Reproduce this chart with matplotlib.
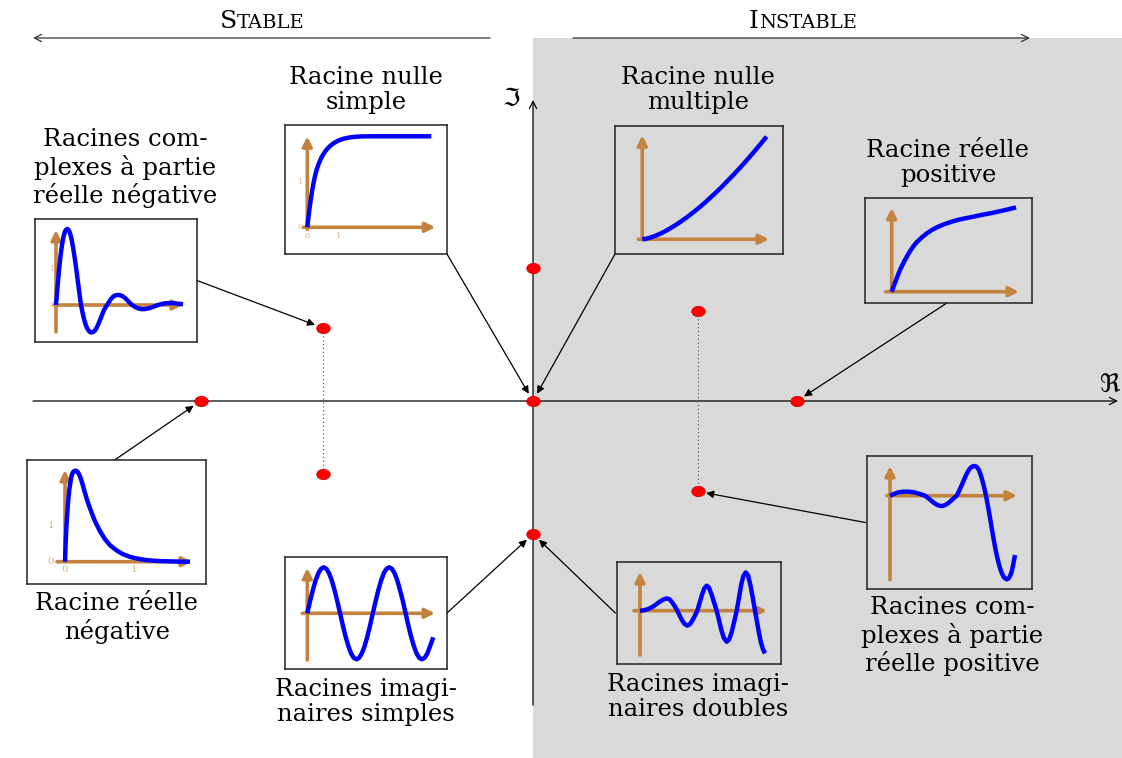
import numpy as np
import matplotlib
matplotlib.use('Agg')
import matplotlib.pyplot as plt
from matplotlib.patches import Rectangle
from matplotlib.markers import MarkerStyle
from matplotlib.transforms import Affine2D
from matplotlib.offsetbox import TextArea, HPacker, AnnotationBbox

plt.rcParams['font.family'] = ['DejaVu Serif', 'DejaVu Sans']

W, H = 1122, 758
U = 66.5           # pixels par unité du plan complexe
OX, OY = 533, 401  # origine du plan complexe (pixels)

# pôles dans le plan complexe
pole_re = [-5.0, -3.16, -3.16, 0.0, 0.0, 0.0, 2.48, 2.48, 3.97]
pole_im = [0.0, 1.1, -1.1, 2.0, 0.0, -2.0, 1.36, -1.36, 0.0]

# réponses dessinées dans les vignettes (t, y) en pixels depuis l'origine de chaque vignette
cplx_neg_t = [0, 1.5, 3, 4.5, 6, 7.5, 9, 10.2, 11.3, 12.5, 14, 15.5, 17, 18.5, 20, 21.5, 23, 24, 25, 26.5, 28,
              29.5, 31, 32.5, 34, 35.5, 37, 38.5, 40, 42, 44, 46, 48, 49.5, 51, 53, 55, 57, 59, 61, 63, 65, 67,
              69, 71, 73.5, 76, 78, 80, 82.5, 85, 87, 89, 91.5, 94, 96, 98, 100, 102, 105, 108, 111, 114, 117,
              120, 123.5, 127]
cplx_neg_y = [0, 18, 35, 49, 60, 68.5, 73.5, 75.5, 76, 75.3, 72, 66, 58, 48.5, 38, 26.5, 15, 7.5, 0, -7.5, -14,
              -19, -23, -25.5, -27, -27.5, -27, -26, -24, -20, -15, -10, -5, -2.5, 0, 3, 6, 8.3, 9.5, 10, 10, 9.5,
              8.5, 7, 5, 2.5, 0, -1.2, -2.5, -3.5, -4, -4.2, -4, -3.5, -3, -2.3, -1.5, -0.8, 0, 0.8, 1.5, 1.8, 2,
              1.9, 1.5, 1.1, 0.7]
null_simple_t = [0, 0.5, 1, 1.5, 2, 3, 4, 5, 6, 7, 8, 9.5, 11, 12.5, 14, 16, 18, 20, 22, 24, 26, 28, 30, 33, 36,
                 39, 42, 46, 49, 55, 63, 80, 100, 124]
null_simple_y = [0, 4.5, 9, 13, 17, 24.5, 31, 37.5, 43, 48, 52.5, 58, 62.5, 66, 69.5, 73, 76, 78.5, 80.5, 82.3,
                 83.8, 85, 86.2, 87.5, 88.5, 89.2, 89.8, 90.3, 90.6, 90.9, 91, 91, 91, 91]
real_neg_t = [0, 0.5, 1, 1.7, 2.5, 3.3, 4.3, 5.5, 6.7, 8, 9.5, 11, 12.5, 14.3, 16, 17.7, 19.5, 21.7, 24, 27, 30,
              35, 40, 45, 51.7, 58, 65, 71.7, 80, 88, 95, 105, 115, 125]
real_neg_y = [0, 14, 27, 40, 52, 62, 72, 80, 86.5, 89.5, 90.8, 91, 90, 87, 82.5, 77, 70.5, 63, 56, 48, 40.5,
              30.5, 22.5, 16.5, 11.2, 7.5, 4.8, 3.2, 1.8, 1.0, 0.6, 0.3, 0.1, 0]
imag_simple_t = [0, 2.7, 5.5, 8.2, 11, 13.7, 16.4, 19.1, 21.8, 24.6, 27.3, 30, 32.8, 35.5, 38.2, 41, 43.7,
                 46.4, 49.2, 51.9, 54.6, 57.4, 60.1, 62.8, 65.5, 68.3, 71, 73.7, 76.4, 79.2, 81.9, 84.6, 87.4,
                 90.1, 92.8, 95.6, 98.3, 101, 103.7, 106.5, 109.2, 111.9, 114.7, 117.4, 120.1, 122.9, 126]
imag_simple_y = [0, 12, 23, 32.5, 40, 44.5, 46, 44.5, 40, 32.5, 23, 12, 0, -12, -23, -32.5, -40, -44.5, -46,
                 -44.5, -40, -32.5, -23, -12, 0, 12, 23, 32.5, 40, 44.5, 46, 44.5, 40, 32.5, 23, 12, 0, -12,
                 -23, -32.5, -40, -44.5, -46, -44.5, -40, -32.5, -24]
null_multi_t = [0, 4, 8, 12, 16, 20, 24, 28, 32, 36, 40, 44, 48, 52, 56, 60, 64, 68, 72, 76, 80, 84, 88, 92,
                96, 100, 104, 108, 112, 116, 120, 124.3]
null_multi_y = [0, 0.6, 1.7, 3.1, 4.7, 6.6, 8.7, 11, 13.4, 16, 18.8, 21.6, 24.7, 27.8, 31, 34.4, 37.9, 41.6,
                45.3, 49.1, 53, 57.1, 61.2, 65.4, 69.7, 74.1, 78.6, 83.2, 87.8, 92.6, 97.4, 102.7]
real_pos_t = [0, 2, 4.3, 6, 8.3, 10.5, 13.3, 15.5, 18.3, 21.5, 25, 30, 35, 40, 45, 50, 55, 60, 66, 72, 78.3, 84,
              90, 96, 101.7, 107, 113, 118.5, 124.3]
real_pos_y = [0, 5.5, 11.5, 16, 21.7, 26.3, 31.8, 35.7, 40.5, 45.2, 49.5, 54.2, 58.3, 61.6, 64.3, 66.5, 68.3,
              70, 71.7, 73.1, 74.3, 75.5, 76.8, 77.9, 79, 80.2, 81.5, 82.9, 84.3]
imag_double_t = [0, 4, 8, 12, 16, 20, 23.5, 26.7, 29.5, 32, 34.7, 37.3, 39.5, 42, 44.5, 47.3, 50, 52.5, 55, 57.3,
                 59.5, 62, 64.3, 66.7, 69, 71.5, 74, 76.7, 79, 81.5, 84, 86.7, 89.3, 91.8, 94.2, 96.7, 99, 101.3,
                 103.5, 105.7, 108, 110.3, 112.7, 115, 117, 119, 121, 123, 125]
imag_double_y = [0, 0.4, 1.6, 3.5, 6.2, 9.2, 11.3, 12.3, 11.5, 8.6, 4.5, 0, -4.5, -9.5, -13.2, -15, -13.5, -9.5,
                 -4.8, 0, 7.5, 16, 22.3, 25, 23, 16.5, 8.5, 0, -9.5, -20, -27.5, -31, -28.5, -21, -11, 0, 13, 26.5,
                 35, 38.3, 35.5, 26, 13.5, 0, -11, -22.5, -32, -38.5, -42.7]
cplx_pos_t = [0, 4, 8, 12, 17.5, 23, 28, 32, 35, 38, 41, 44, 47, 49.5, 51.7, 54, 56.5, 59, 61.5, 64, 66.7, 69,
              71.5, 74, 76.5, 79, 81, 83, 85, 87, 89, 91, 93.5, 96, 98, 100, 102, 104, 106, 108, 110, 112, 114,
              116.7, 118.5, 120, 121.5, 123, 125]
cplx_pos_y = [0, 1.8, 3.2, 3.9, 4.1, 3.6, 2.3, 1.0, 0, -2.2, -4.8, -7.2, -9.1, -10.1, -10.3, -9.8, -8.6, -6.8,
              -4.6, -2.3, 0, 4.5, 10, 16, 21.5, 26, 28.3, 29.5, 29.7, 28.5, 25.5, 20, 11, 0, -10.5, -22, -34,
              -45.5, -56, -65, -72.5, -78, -81.8, -83.7, -82.8, -80.5, -76.5, -70, -59.3]

fig = plt.figure(figsize=(W / 100, H / 100), dpi=100)
pix = Affine2D().scale(1 / W, -1 / H).translate(0, 1) + fig.transFigure

ax = fig.add_axes([0, 0, 1, 1])
ax.set_xlim(-OX / U, (W - OX) / U)
ax.set_ylim(-(H - OY) / U, OY / U)
ax.axis('off')

# zone instable
ax.add_patch(Rectangle((0, -(H - OY) / U), (W - OX) / U, (H - 38) / U, facecolor='#d9d9d9',
                       edgecolor='none', zorder=0))

# axes du plan complexe
ax.annotate('', xy=((1118 - OX) / U, 0), xytext=((33 - OX) / U, 0),
            arrowprops=dict(arrowstyle='->', lw=0.9, color='black', shrinkA=0, shrinkB=0, mutation_scale=13))
ax.annotate('', xy=(0, (OY - 100) / U), xytext=(0, (OY - 705) / U),
            arrowprops=dict(arrowstyle='->', lw=0.9, color='black', shrinkA=0, shrinkB=0, mutation_scale=13))
ax.text(1100, 386, '\u211c', transform=pix, fontsize=18, ha='left', va='center', family=['DejaVu Sans'])
ax.text(511, 99, '\u2111', transform=pix, fontsize=18, ha='center', va='center', family=['DejaVu Sans'])

# bandeaux stable / instable
ax.annotate('', xy=(33, 38), xytext=(490, 38), xycoords=pix, textcoords=pix,
            arrowprops=dict(arrowstyle='->', lw=0.9, color='#333333', shrinkA=0, shrinkB=0, mutation_scale=13))
ax.annotate('', xy=(1030, 38), xytext=(573, 38), xycoords=pix, textcoords=pix,
            arrowprops=dict(arrowstyle='->', lw=0.9, color='#333333', shrinkA=0, shrinkB=0, mutation_scale=13))


def small_caps(word, x, y):
    parts = [TextArea(word[0], textprops=dict(size=18, family='DejaVu Serif')),
             TextArea(word[1:].upper(), textprops=dict(size=14, family='DejaVu Serif'))]
    box = HPacker(children=parts, align='baseline', pad=0, sep=0)
    ab = AnnotationBbox(box, (x, y), xycoords=pix, frameon=False, box_alignment=(0.5, 0.5))
    ax.add_artist(ab)


small_caps('Stable', 262, 21)
small_caps('Instable', 803, 21)

# pôles
ellipse = MarkerStyle('o', transform=Affine2D().scale(1.3, 1.0))
ax.plot([pole_re[1], pole_re[2]], [pole_im[1], pole_im[2]], ls=(0, (1, 2.5)), color='#444444', lw=0.8, zorder=3)
ax.plot([pole_re[6], pole_re[7]], [pole_im[6], pole_im[7]], ls=(0, (1, 2.5)), color='#444444', lw=0.8, zorder=3)
ax.plot(pole_re, pole_im, ls='none', marker=ellipse, color='red', ms=7.5, mec='#cc0000', mew=0.5, zorder=5)

# libellés
label_kw = dict(transform=pix, fontsize=17.5, ha='center', va='center', linespacing=1.16)
ax.text(125, 168, 'Racines com-\nplexes à partie\nréelle négative', **label_kw)
ax.text(366, 90, 'Racine nulle\nsimple', **label_kw)
ax.text(698, 90, 'Racine nulle\nmultiple', **label_kw)
ax.text(948, 163, 'Racine réelle\npositive', **label_kw)
ax.text(117, 618, 'Racine réelle\nnégative', **label_kw)
ax.text(366, 702, 'Racines imagi-\nnaires simples', **label_kw)
ax.text(698, 697, 'Racines imagi-\nnaires doubles', **label_kw)
ax.text(952, 636, 'Racines com-\nplexes à partie\nréelle positive', **label_kw)

ORANGE = '#c4823f'
TICK = '#e2ad78'


def vignette(box, origin, xaxis, yaxis, t, y, ticks=(), tick_size=5):
    x0, y0, x1, y1 = box
    ox, oy = origin
    a = fig.add_axes([x0 / W, 1 - y1 / H, (x1 - x0) / W, (y1 - y0) / H])
    a.set_xlim(x0 - ox, x1 - ox)
    a.set_ylim(oy - y1, oy - y0)
    a.set_facecolor('none')
    a.set_xticks([])
    a.set_yticks([])
    for s in a.spines.values():
        s.set_color('#222222')
        s.set_linewidth(1.1)
    arrow = dict(arrowstyle='-|>', lw=2.6, color=ORANGE, shrinkA=0, shrinkB=0, mutation_scale=14)
    a.annotate('', xy=(xaxis[1], 0), xytext=(xaxis[0], 0), arrowprops=arrow)
    a.annotate('', xy=(0, yaxis[1]), xytext=(0, yaxis[0]), arrowprops=arrow)
    a.plot(t, y, color='#0000ff', lw=3.2, solid_joinstyle='round', solid_capstyle='butt', zorder=4)
    for tx, ty, s in ticks:
        a.text(tx, ty, s, color=TICK, fontsize=tick_size, ha='center', va='center')
    return a


v_cn = vignette((35, 219, 197, 342), (56, 305), (-2, 127), (-27, 75), cplx_neg_t, cplx_neg_y,
                [(-5, 36, '1'), (-4, 0, '0'), (25, -8, '1')])
v_ns = vignette((285, 125, 447, 254), (307.3, 227.3), (-4, 128), (-2, 91), null_simple_t, null_simple_y,
                [(-6.7, 45.7, '1'), (-6.7, 0, '0'), (0, -9, '0'), (31, -9, '1')], 6)
v_rn = vignette((27, 460, 206, 584), (65, 561.7), (-8, 127), (0, 91.7), real_neg_t, real_neg_y,
                [(-14, 36, '1'), (-14, 0, '0'), (0, -8, '0'), (69, -8, '1')], 7.5)
v_is = vignette((285, 557, 447, 669), (307.3, 613.3), (-5, 127.7), (-46.7, 45.3), imag_simple_t, imag_simple_y,
                [(-7, 15, '.'), (-7, 0, '..')], 3)
v_nm = vignette((615, 126, 783, 254), (642.3, 239.3), (-4, 126.7), (0, 104), null_multi_t, null_multi_y,
                [(-9, 15, '.'), (-9, 0, '..'), (0, -4, '..'), (41, -4, '.')], 3)
v_rp = vignette((865, 198, 1032, 303), (891.7, 291.7), (-6, 127.3), (0, 83.7), real_pos_t, real_pos_y,
                [(-9, 5, '-'), (-9, 0, '--')], 3)
v_id = vignette((617, 562, 781, 664), (640, 610.7), (-6, 127), (-44.3, 38.7), imag_double_t, imag_double_y,
                [(-7, 11, '.'), (-7, 0, '..')], 3)
v_cp = vignette((867, 456, 1032, 589), (890, 495.7), (-3, 127), (-84, 29.7), cplx_pos_t, cplx_pos_y)

# flèches vers les pôles
links = [(v_cn, (1.0, 0.5), 1), (v_ns, (1.0, 0.0), 4), (v_nm, (0.0, 0.0), 4), (v_rp, (0.49, 0.0), 8),
         (v_rn, (0.49, 1.0), 0), (v_is, (1.0, 0.5), 5), (v_id, (-0.01, 0.5), 5), (v_cp, (-0.01, 0.5), 7)]
for a, anchor, k in links:
    ax.annotate('', xy=(pole_re[k], pole_im[k]), xytext=anchor, textcoords=a.transAxes,
                arrowprops=dict(arrowstyle='-|>', lw=0.9, color='black', shrinkA=0, shrinkB=6,
                                mutation_scale=11), zorder=4)

fig.savefig('out.png', dpi=100)
